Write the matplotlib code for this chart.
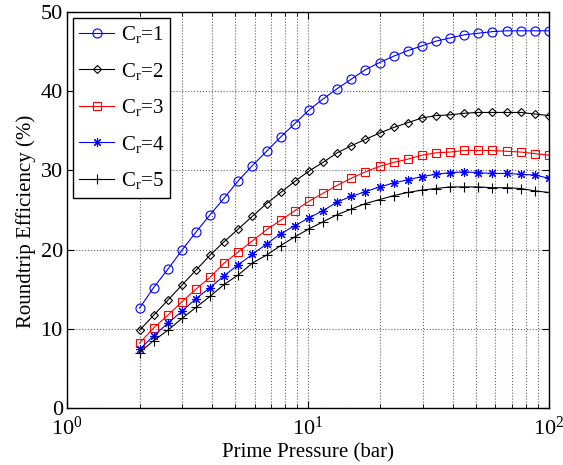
import numpy as np
import matplotlib.pyplot as plt

plt.rcParams['font.family'] = 'Liberation Serif'
plt.rcParams['mathtext.fontset'] = 'custom'
plt.rcParams['mathtext.rm'] = 'Liberation Serif'
plt.rcParams['mathtext.it'] = 'Liberation Serif:italic'

# prime pressure (bar), 30 log-spaced points from 2 to 100
pressure = np.logspace(np.log10(2), 2, 30)

eff_cr1 = [12.6, 15.2, 17.5, 19.9, 22.2, 24.4, 26.5, 28.7, 30.6, 32.4,
           34.2, 35.9, 37.6, 39.0, 40.3, 41.5, 42.7, 43.6, 44.4, 45.1,
           45.7, 46.3, 46.7, 47.1, 47.3, 47.5, 47.6, 47.6, 47.6, 47.6]
eff_cr2 = [9.8, 11.7, 13.6, 15.5, 17.4, 19.3, 21.0, 22.6, 24.2, 25.8,
           27.2, 28.6, 29.9, 31.0, 32.2, 33.1, 33.9, 34.7, 35.4, 36.0,
           36.6, 36.9, 37.0, 37.2, 37.3, 37.3, 37.3, 37.3, 37.1, 36.9]
eff_cr3 = [8.2, 10.1, 11.7, 13.4, 15.0, 16.5, 18.3, 19.7, 21.1, 22.5,
           23.7, 24.9, 26.1, 27.1, 28.1, 29.0, 29.8, 30.5, 31.0, 31.4,
           31.9, 32.2, 32.3, 32.5, 32.5, 32.5, 32.4, 32.3, 32.1, 31.9]
eff_cr4 = [7.4, 9.1, 10.7, 12.2, 13.8, 15.2, 16.7, 18.1, 19.4, 20.7,
           22.0, 23.0, 24.0, 24.9, 26.0, 26.7, 27.3, 27.9, 28.4, 28.8,
           29.2, 29.5, 29.7, 29.8, 29.7, 29.6, 29.6, 29.5, 29.4, 29.0]
eff_cr5 = [7.0, 8.5, 9.8, 11.3, 12.7, 14.1, 15.6, 16.8, 18.3, 19.3,
           20.5, 21.6, 22.6, 23.5, 24.4, 25.1, 25.8, 26.3, 26.8, 27.2,
           27.5, 27.7, 27.9, 27.9, 27.9, 27.8, 27.8, 27.7, 27.4, 27.2]
labels = ['C$_\\mathrm{r}$=1', 'C$_\\mathrm{r}$=2', 'C$_\\mathrm{r}$=3',
          'C$_\\mathrm{r}$=4', 'C$_\\mathrm{r}$=5']

fig = plt.figure(figsize=(5.63, 4.65), dpi=100)
ax = fig.add_axes([0.119, 0.1226, 0.856, 0.852])

ax.plot(pressure, eff_cr1, color='b', marker='o', mfc='none', ms=6.5, lw=0.8, mew=0.8, label=labels[0])
ax.plot(pressure, eff_cr2, color='k', marker='D', mfc='none', ms=4.5, lw=0.8, mew=0.8, label=labels[1])
ax.plot(pressure, eff_cr3, color='r', marker='s', mfc='none', ms=6, lw=0.8, mew=0.8, label=labels[2])
ax.plot(pressure, eff_cr4, color='b', marker=(8, 2, 0), ms=6.5, lw=0.8, mew=0.8, label=labels[3])
ax.plot(pressure, eff_cr5, color='k', marker='+', ms=7.5, lw=0.8, mew=0.8, label=labels[4])

ax.set_xscale('log')
ax.set_xlim(1, 100)
ax.set_ylim(0, 50)
ax.set_yticks([0, 10, 20, 30, 40, 50])
ax.grid(True, which='both', axis='x', linestyle=':', color='0.4', lw=0.8)
ax.grid(True, which='major', axis='y', linestyle=':', color='0.4', lw=0.8)
ax.tick_params(which='both', direction='in', top=True, right=True, labelsize=16)
ax.tick_params(which='major', length=5)
ax.tick_params(which='minor', length=3)
ax.tick_params(axis='x', pad=6)
ax.tick_params(axis='y', pad=3)
for s in ax.spines.values():
    s.set_linewidth(1.0)

ax.set_xlabel('Prime Pressure (bar)', fontsize=15)
ax.set_ylabel('Roundtrip Efficiency (%)', fontsize=15)
ax.xaxis.set_label_coords(0.5, -0.09)
ax.yaxis.set_label_coords(-0.064, 0.472)

leg = ax.legend(loc='upper left', fontsize=15, fancybox=False, edgecolor='k',
                framealpha=1, handlelength=1.7, borderaxespad=0.28, labelspacing=0.75,
                handletextpad=0.3, borderpad=0.3)
leg.get_frame().set_linewidth(1.0)

fig.savefig('out.png', dpi=100)
